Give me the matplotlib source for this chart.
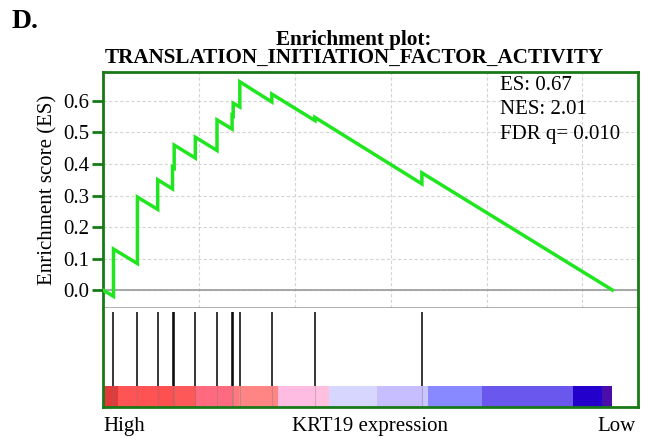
import matplotlib
matplotlib.use("Agg")
import matplotlib.pyplot as plt
from matplotlib.ticker import MultipleLocator

plt.rcParams['font.family'] = ['Liberation Serif', 'DejaVu Serif']

# ---------------- data ----------------
n_genes = 26560
hit_ranks = [547, 1794, 2852, 3624, 3712, 4813, 5944, 6731, 6789, 7133, 8801, 11048, 16627]
es_before = [-0.020, 0.084, 0.256, 0.321, 0.387, 0.419, 0.443, 0.511, 0.553, 0.581, 0.597, 0.538, 0.337]
es_after  = [0.130, 0.295, 0.350, 0.390, 0.460, 0.485, 0.540, 0.555, 0.593, 0.661, 0.622, 0.548, 0.372]
es_start = 0.0
es_end = 0.0

bar_edges = [0, 760, 1850, 2840, 3710, 4830, 5950, 6730, 7090, 9130, 11020, 11800,
             14290, 16690, 16960, 19760, 24480, 26020, 26560]
bar_colors = ['#E23A3A', '#FF5454', '#FF5252', '#FF5050', '#FF5858', '#FF6A7E', '#FF6A80',
              '#FF7A80', '#FF8585', '#FFBCE2', '#FFC0E0', '#D6D6FF', '#C6BEFF', '#CCC6FF',
              '#8888FF', '#6A58EE', '#2400CC', '#4A0CAA']

stats = ["ES: 0.67", "NES: 2.01", "FDR q= 0.010"]
yticks = [0.0, 0.1, 0.2, 0.3, 0.4, 0.5, 0.6]
title_lines = ["Enrichment plot:", "TRANSLATION_INITIATION_FACTOR_ACTIVITY"]

# ---------------- figure ----------------
W, H = 650, 438
fig = plt.figure(figsize=(W / 100, H / 100), dpi=100)

def fx(px):
    return px / W

def fy(py):
    return 1 - py / H

L, R = 103, 638
TOP, MID, BOT = 72, 308, 407
FRAME = '#177A17'
xmax = n_genes * (R - L) / (612.4 - L)

ax = fig.add_axes([fx(L), fy(MID), fx(R) - fx(L), fy(TOP) - fy(MID)])
axb = fig.add_axes([fx(L), fy(BOT), fx(R) - fx(L), fy(MID) - fy(BOT)])

# running enrichment score
xs = [0]
ys = [es_start]
for r, b, a in zip(hit_ranks, es_before, es_after):
    xs += [r, r]
    ys += [b, a]
xs.append(n_genes)
ys.append(es_end)
ax.plot(xs, ys, color='#1FE61F', lw=2.5, solid_joinstyle='miter', zorder=3)

ax.set_xlim(0, xmax)
ax.set_ylim(-0.057, 0.692)
ax.set_yticks(yticks)
ax.set_yticklabels([f"{v:.1f}" for v in yticks], fontsize=15)
ax.xaxis.set_major_locator(MultipleLocator(5000))
ax.tick_params(axis='x', bottom=False, labelbottom=False)
ax.tick_params(axis='y', direction='out', length=8, width=2, color=FRAME, pad=2)
ax.grid(True, color='#D4D4D4', ls=(0, (3, 2)), lw=0.8)
ax.axhline(0, color='#9A9A9A', lw=1.2, zorder=2)
for s in ['top', 'left', 'right']:
    ax.spines[s].set_color(FRAME)
    ax.spines[s].set_linewidth(2)
ax.spines['bottom'].set_color('#A0A0A0')
ax.spines['bottom'].set_linewidth(1.2)
ax.set_ylabel("Enrichment score (ES)", fontsize=15, labelpad=4)

for i, t in enumerate(stats):
    fig.text(fx(500), fy(85 + 25 * i), t, fontsize=15, ha='left', va='center')

# hits and ranking colour bar
axb.set_xlim(0, xmax)
axb.set_ylim(0, 1)
bar_top = (BOT - 386) / (BOT - MID)
tick_top = (BOT - 312) / (BOT - MID)
for x0, x1, c in zip(bar_edges[:-1], bar_edges[1:], bar_colors):
    axb.axvspan(x0, x1, ymin=0, ymax=bar_top, color=c, lw=0)
axb.vlines(hit_ranks, bar_top, tick_top, color='black', lw=1.1)
axb.vlines(hit_ranks, 0, bar_top, color='#777777', lw=0.8, alpha=0.35)
axb.set_xticks([])
axb.set_yticks([])
for s in ['bottom', 'left', 'right']:
    axb.spines[s].set_color(FRAME)
    axb.spines[s].set_linewidth(2)
axb.spines['top'].set_visible(False)

fig.text(fx(L), fy(431), "High", fontsize=15, ha='left', va='baseline')
fig.text(fx(370), fy(431), "KRT19 expression", fontsize=15, ha='center', va='baseline')
fig.text(fx(636), fy(431), "Low", fontsize=15, ha='right', va='baseline')

# titles
fig.text(fx(12), fy(21), "D.", fontsize=20, fontweight='bold', ha='left', va='center')
fig.text(fx(354), fy(49), "\n".join(title_lines), fontsize=15.2, fontweight='bold',
         ha='center', va='center', multialignment='center', linespacing=0.9)

fig.savefig("out.png", dpi=100)
